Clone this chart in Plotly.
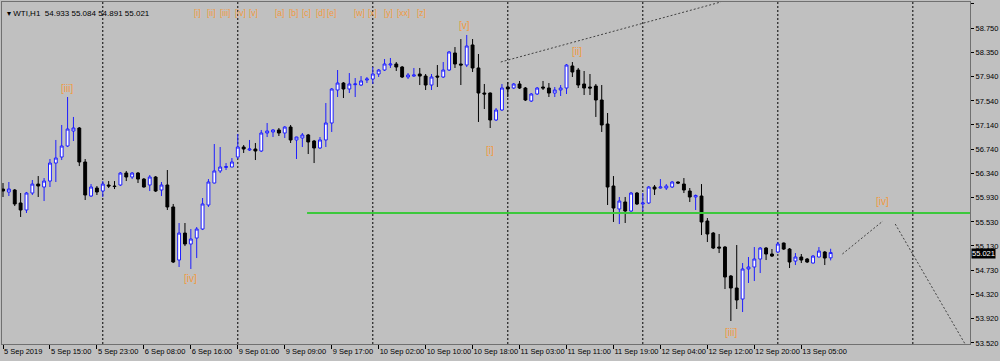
import plotly.graph_objects as go

# ---------------- data (WTI, H1) ----------------
open_ = [56.076, 56.027, 56.060, 55.844, 55.728, 56.010, 56.159, 56.110, 56.209, 56.508,
         56.608, 56.791, 57.040, 57.090, 56.525, 55.960, 56.093, 56.043, 56.143, 56.126,
         56.143, 56.342, 56.276, 56.342, 56.242, 56.143, 56.276, 56.060, 56.143, 55.778,
         54.897, 55.345, 55.163, 55.262, 55.412, 55.811, 56.176, 56.376, 56.434, 56.442,
         56.608, 56.774, 56.724, 56.741, 56.708, 57.007, 57.024, 57.057, 57.007, 57.106,
         56.891, 56.924, 56.974, 56.874, 56.758, 56.891, 57.173, 57.721, 57.837, 57.738,
         57.810, 57.804, 57.887, 57.904, 57.987, 58.053, 58.136, 58.153, 58.103, 57.937,
         57.953, 57.987, 57.953, 57.804, 57.953, 57.937, 58.053, 58.336, 58.153, 58.136,
         58.469, 58.087, 57.671, 57.671, 57.223, 57.389, 57.771, 57.754, 57.821, 57.754,
         57.538, 57.655, 57.771, 57.754, 57.671, 57.721, 57.754, 58.120, 58.053, 57.821,
         57.771, 57.787, 57.555, 57.156, 56.126, 55.745, 55.861, 55.711, 56.010, 55.828,
         55.844, 56.110, 56.093, 56.093, 56.110, 56.193, 56.159, 56.043, 55.944, 55.960,
         55.545, 55.345, 55.113, 55.113, 54.631, 54.432, 54.249, 54.748, 54.781, 54.914,
         55.096, 54.997, 55.030, 55.179, 55.079, 54.880, 54.947, 54.914, 54.847, 54.947,
         55.030, 54.933]
high = [56.176, 56.193, 56.076, 56.010, 56.027, 56.226, 56.292, 56.259, 56.575, 56.891,
        57.140, 57.605, 57.273, 57.106, 56.575, 56.159, 56.126, 56.209, 56.209, 56.209,
        56.359, 56.376, 56.359, 56.359, 56.259, 56.309, 56.292, 56.193, 56.392, 55.828,
        55.512, 55.512, 55.412, 55.445, 55.927, 56.242, 56.824, 56.774, 56.508, 56.591,
        56.991, 56.807, 56.891, 56.841, 57.057, 57.173, 57.073, 57.090, 57.123, 57.140,
        56.945, 57.007, 56.991, 56.891, 56.940, 57.505, 57.754, 58.053, 57.854, 58.003,
        57.920, 57.953, 57.937, 58.103, 58.070, 58.236, 58.253, 58.186, 58.120, 58.003,
        58.087, 58.087, 57.987, 57.987, 58.136, 58.186, 58.369, 58.435, 58.568, 58.635,
        58.568, 58.319, 57.821, 57.680, 57.422, 57.821, 57.854, 57.837, 57.871, 57.771,
        57.671, 57.771, 57.871, 57.837, 57.771, 57.804, 58.153, 58.186, 58.087, 58.037,
        57.987, 57.821, 57.804, 57.339, 56.292, 55.944, 55.944, 56.027, 56.027, 56.010,
        56.126, 56.143, 56.242, 56.159, 56.209, 56.201, 56.259, 56.093, 55.985, 56.159,
        55.595, 55.362, 55.329, 55.129, 54.648, 55.146, 54.847, 54.947, 55.113, 55.113,
        55.113, 55.079, 55.196, 55.187, 55.096, 55.013, 54.997, 54.930, 54.980, 55.113,
        55.046, 55.084]
low = [55.944, 55.960, 55.794, 55.612, 55.678, 55.977, 55.944, 55.877, 56.110, 56.193,
       56.558, 56.774, 56.874, 56.458, 55.894, 55.944, 55.977, 55.944, 56.093, 56.076,
       56.126, 56.209, 56.242, 56.176, 56.100, 56.043, 56.027, 55.960, 55.728, 54.847,
       54.781, 55.129, 54.748, 54.930, 55.395, 55.778, 56.170, 56.342, 56.392, 56.440,
       56.575, 56.675, 56.708, 56.558, 56.691, 56.940, 56.940, 56.957, 56.924, 56.841,
       56.575, 56.774, 56.658, 56.508, 56.741, 56.774, 57.024, 57.605, 57.588, 57.671,
       57.605, 57.787, 57.837, 57.821, 57.937, 58.037, 58.087, 58.037, 57.920, 57.904,
       57.937, 57.804, 57.721, 57.721, 57.771, 57.920, 58.037, 58.087, 57.804, 58.103,
       58.020, 57.190, 57.405, 57.090, 57.206, 57.372, 57.605, 57.738, 57.738, 57.538,
       57.522, 57.638, 57.721, 57.605, 57.605, 57.622, 57.655, 57.937, 57.754, 57.638,
       57.638, 57.273, 57.024, 55.811, 55.529, 55.495, 55.512, 55.678, 55.811, 55.711,
       55.828, 55.977, 56.085, 56.060, 56.093, 56.159, 56.010, 55.861, 55.728, 55.312,
       55.196, 55.079, 55.013, 54.415, 53.884, 54.083, 54.033, 54.515, 54.548, 54.681,
       54.897, 54.947, 55.013, 55.063, 54.764, 54.814, 54.847, 54.847, 54.840, 54.940,
       54.814, 54.891]
close = [56.043, 56.076, 55.828, 55.728, 56.010, 56.159, 56.126, 56.209, 56.508, 56.591,
         56.791, 57.073, 57.090, 56.525, 55.977, 56.110, 56.027, 56.159, 56.126, 56.118,
         56.342, 56.276, 56.342, 56.242, 56.110, 56.276, 56.043, 56.143, 55.778, 54.864,
         55.345, 55.163, 55.246, 55.412, 55.828, 56.193, 56.376, 56.442, 56.450, 56.525,
         56.774, 56.741, 56.741, 56.708, 57.007, 57.040, 57.057, 57.007, 57.106, 56.891,
         56.940, 56.974, 56.858, 56.758, 56.891, 57.173, 57.738, 57.837, 57.738, 57.821,
         57.821, 57.871, 57.904, 57.987, 58.053, 58.153, 58.153, 58.103, 57.937, 57.970,
         57.970, 57.953, 57.804, 57.937, 57.937, 58.053, 58.353, 58.153, 58.136, 58.452,
         58.087, 57.671, 57.655, 57.223, 57.389, 57.754, 57.738, 57.821, 57.754, 57.555,
         57.655, 57.754, 57.754, 57.671, 57.721, 57.754, 58.136, 58.020, 57.804, 57.754,
         57.754, 57.555, 57.140, 56.110, 55.761, 55.877, 55.711, 56.010, 55.828, 55.844,
         56.110, 56.076, 56.110, 56.126, 56.193, 56.176, 56.060, 55.944, 55.969, 55.529,
         55.329, 55.096, 55.096, 54.615, 54.432, 54.233, 54.748, 54.781, 54.914, 55.096,
         54.997, 54.963, 55.163, 55.079, 54.864, 54.947, 54.897, 54.864, 54.963, 55.046,
         54.930, 55.021]
bar_index = list(range(len(close)))

# time-axis labels (every 8 bars)
time_tick_idx = [0, 8, 16, 24, 32, 40, 48, 56, 64, 72, 80, 88, 96, 104, 112, 120, 128, 136]
time_tick_text = ["5 Sep 2019", "5 Sep 15:00", "5 Sep 23:00", "6 Sep 08:00", "6 Sep 16:00",
                  "9 Sep 01:00", "9 Sep 09:00", "9 Sep 17:00", "10 Sep 02:00", "10 Sep 10:00",
                  "10 Sep 18:00", "11 Sep 03:00", "11 Sep 11:00", "11 Sep 19:00", "12 Sep 04:00",
                  "12 Sep 12:00", "12 Sep 20:00", "13 Sep 05:00"]

price_ticks = [59.150, 58.750, 58.350, 57.940, 57.540, 57.140, 56.740, 56.340,
               55.930, 55.530, 55.130, 54.730, 54.320, 53.920, 53.520]

# day separators (bar index of each new day)
day_sep_idx = [17, 40, 63, 86, 109, 132, 155]

# horizontal support level
support_level = 55.678
support_start_idx = 51.8

# trend line anchors (bar index, price)
trend_x = [84.8, 122.3]
trend_y = [58.186, 59.183]

# projected wave path
proj1_x = [143.0, 149.9]
proj1_y = [54.997, 55.545]
proj2_x = [152.0, 163.9]
proj2_y = [55.495, 53.502]

# wave labels on chart
wave_text = ["[iii]", "[iv]", "[v]", "[i]", "[ii]", "[iii]", "[iv]"]
wave_idx = [10.9, 31.9, 78.7, 83.0, 97.8, 124.0, 149.9]
wave_price = [57.754, 54.598, 58.801, 56.724, 58.353, 53.701, 55.877]

# label buttons along the top
top_labels = ["[i]", "[ii]", "[iii]", "[iv]", "[v]", "[a]", "[b]", "[c]", "[d]", "[e]",
              "[w]", "[x]", "[y]", "[xx]", "[z]"]
top_label_pos = [0.197, 0.211, 0.224, 0.240, 0.254, 0.281, 0.295, 0.309, 0.323, 0.340,
                 0.369, 0.383, 0.399, 0.415, 0.433]

last_price = close[-1]

# ---------------- figure ----------------
BG = "#C0C0C0"
ORANGE = "#F09A40"
FONT = "Liberation Sans, Arial, sans-serif"

fig = go.Figure()
fig.add_trace(go.Candlestick(
    x=bar_index, open=open_, high=high, low=low, close=close,
    increasing=dict(line=dict(color="#1E1EFF", width=1), fillcolor="#FFFFFF"),
    decreasing=dict(line=dict(color="#000000", width=1), fillcolor="#000000"),
    whiskerwidth=0, hoverinfo="skip", showlegend=False,
))

x_min, x_max = -0.17, 164.74
y_min, y_max = 53.502, 59.183

shapes = []
for d in day_sep_idx:
    shapes.append(dict(type="line", xref="x", yref="paper", x0=d, x1=d, y0=0, y1=1,
                       line=dict(color="#000000", width=1, dash="2px,2px"), layer="below"))
shapes.append(dict(type="line", xref="x", yref="y", x0=support_start_idx, x1=x_max,
                   y0=support_level, y1=support_level,
                   line=dict(color="#3CC83C", width=2)))
for xs, ys in ((trend_x, trend_y), (proj1_x, proj1_y), (proj2_x, proj2_y)):
    shapes.append(dict(type="line", xref="x", yref="y", x0=xs[0], x1=xs[1], y0=ys[0], y1=ys[1],
                       line=dict(color="#404040", width=1, dash="2px,2px")))

ann = []
for t, xi, yp in zip(wave_text, wave_idx, wave_price):
    ann.append(dict(x=xi, y=yp, xref="x", yref="y", text=t, showarrow=False,
                    font=dict(family=FONT, size=10, color=ORANGE)))
for t, xp in zip(top_labels, top_label_pos):
    ann.append(dict(x=xp, y=0.985, xref="paper", yref="paper", text=t, showarrow=False,
                    borderpad=0, font=dict(family=FONT, size=8.5, color=ORANGE)))
ann.append(dict(x=0.003, y=0.985, xref="paper", yref="paper", xanchor="left",
                text="▾ WTI,H1  %.3f %.3f %.3f %.3f" % (open_[-1], high[-1], low[-1], close[-1]),
                showarrow=False, font=dict(family=FONT, size=8, color="#000000")))
ann.append(dict(x=1, y=last_price, xref="paper", yref="y", xanchor="left", xshift=1,
                yshift=-1,
                text="%.3f" % last_price, showarrow=False, bgcolor="#000000", borderpad=0,
                font=dict(family=FONT, size=7.5, color="#FFFFFF")))

fig.update_layout(
    width=1000, height=361,
    margin=dict(l=2, r=30, t=2, b=17, autoexpand=False),
    paper_bgcolor=BG, plot_bgcolor=BG,
    shapes=shapes, annotations=ann,
    showlegend=False,
    xaxis=dict(range=[x_min, x_max], showgrid=False, zeroline=False, automargin=False,
               tickmode="array", tickvals=time_tick_idx, ticktext=time_tick_text,
               tickangle=0,
               ticks="outside", ticklen=4, tickcolor="#000000",
               ticklabelposition="outside right",
               tickfont=dict(family=FONT, size=7.5, color="#000000"),
               showline=True, linecolor="#707070", mirror=True,
               rangeslider=dict(visible=False)),
    yaxis=dict(range=[y_min, y_max], side="right", showgrid=False, zeroline=False,
               automargin=False,
               tickmode="array", tickvals=price_ticks,
               ticktext=["%.3f" % v for v in price_ticks],
               ticks="outside", ticklen=3, tickcolor="#000000",
               tickfont=dict(family=FONT, size=7.5, color="#000000"),
               showline=True, linecolor="#707070", mirror=True),
)

fig.write_html("out.html", config={"displayModeBar": False},
               post_script="document.body.style.margin='0px';document.body.style.overflow='hidden';")
